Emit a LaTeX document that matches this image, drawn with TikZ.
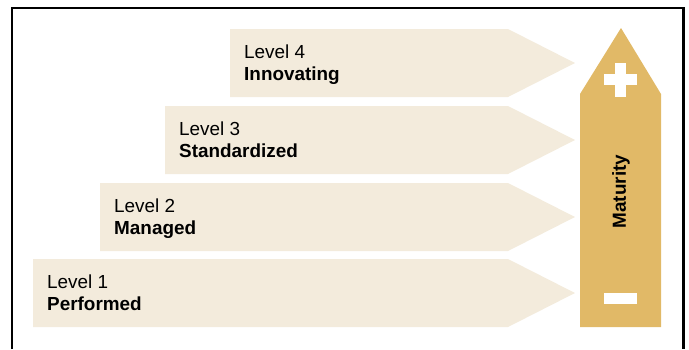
\documentclass[tikz,border=0pt]{standalone}
\usepackage{fontspec}
\setmainfont{Liberation Sans}
\usepackage{xcolor}
\usepackage{tikz}
\usetikzlibrary{positioning,calc}

\definecolor{stepfill}{HTML}{F3EBDC}
\definecolor{scalefill}{HTML}{E1B967}

% the look of the level arrows and of their texts
\tikzset{levelarrow/.style={fill=stepfill, draw=none},
         levelnum/.style={inner sep=0pt, anchor=base west,
            font=\fontsize{18.9}{22}\selectfont},
         levelname/.style={levelnum, font=\fontsize{18.9}{22}\selectfont\bfseries}}

\begin{document}
\begin{tikzpicture}[x=1pt,y=-1pt]
      \useasboundingbox (0,0) rectangle (689,349);
      % the frame, open at the bottom
      \draw[line width=2.4pt] (12,349) -- (12,8) -- (683.5,8) -- (683.5,349);
      % one arrow for each level : left x / top y / number / name
      \foreach \lx/\ty/\n/\name in {33/259/1/Performed, 100/183/2/Managed,
                                   165/106/3/Standardized, 230/29/4/Innovating}{
        \fill[levelarrow] (\lx,\ty) -- (508,\ty) -- (575,\ty+34)
             -- (508,\ty+68) -- (\lx,\ty+68) -- cycle;
        \node[levelnum] (lvl\n) at (\lx+14,\ty+29.5) {Level \n};
        \node[levelname] (name\n) at ([yshift=-21.7pt]lvl\n.base west) {\name};
      }
      % the maturity scale on the right
      \fill[scalefill] (580,327) -- (580,94) -- (621,28) -- (661,94)
           -- (661,327) -- cycle;
      \fill[white] (604,74) rectangle (637,85);
      \fill[white] (615,63) rectangle (626,97);
      \fill[white] (604,293) rectangle (637,304);
      \node[rotate=90, inner sep=0pt, font=\fontsize{18.9}{22}\selectfont\bfseries]
           (maturity) at (621,191.5) {Maturity};
    \end{tikzpicture}
\end{document}
